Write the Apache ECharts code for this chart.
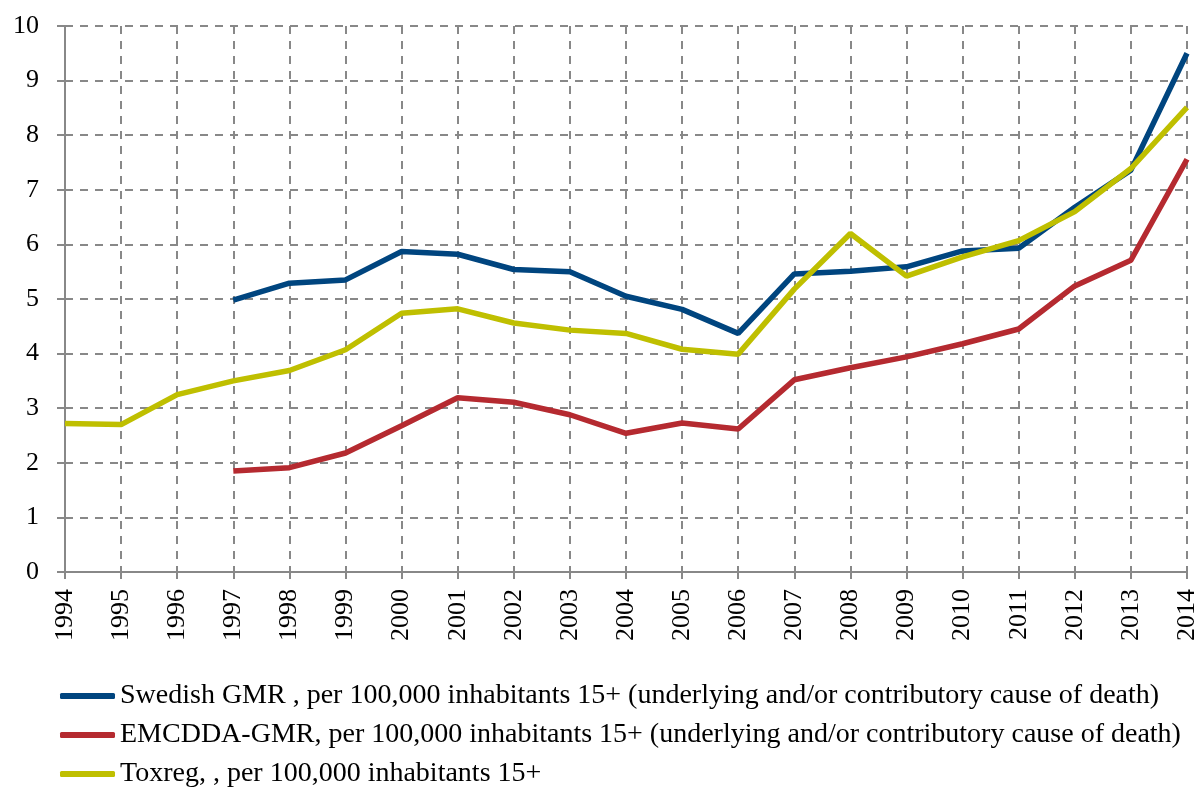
<!DOCTYPE html>
<html>
<head>
<meta charset="utf-8">
<script src="https://cdn.jsdelivr.net/npm/echarts@6/dist/echarts.min.js"></script>
<style>
  html, body { margin: 0; padding: 0; background: #fff; }
  #chart { width: 1200px; height: 789px; }
</style>
</head>
<body>
<div id="chart"></div>
<script>
  // years on the x axis
  var years = ['1994', '1995', '1996', '1997', '1998', '1999', '2000', '2001', '2002', '2003', '2004',
               '2005', '2006', '2007', '2008', '2009', '2010', '2011', '2012', '2013', '2014'];

  // values ('-' = no data)
  var swedishGmr = ['-', '-', '-', 4.98, 5.29, 5.35, 5.87, 5.82, 5.54, 5.50, 5.05,
                    4.81, 4.37, 5.46, 5.51, 5.59, 5.88, 5.93, 6.68, 7.36, 9.50];
  var emcddaGmr = ['-', '-', '-', 1.85, 1.91, 2.18, 2.68, 3.19, 3.11, 2.88, 2.54,
                   2.73, 2.62, 3.52, 3.74, 3.94, 4.18, 4.45, 5.24, 5.71, 7.56];
  var toxreg = [2.72, 2.70, 3.25, 3.50, 3.69, 4.07, 4.74, 4.82, 4.56, 4.43, 4.37,
                4.08, 3.99, 5.18, 6.20, 5.42, 5.77, 6.07, 6.60, 7.39, 8.51];

  var seriesNames = [
    'Swedish GMR , per 100,000 inhabitants 15+ (underlying and/or contributory cause of death)',
    'EMCDDA-GMR, per 100,000 inhabitants 15+ (underlying and/or contributory cause of death)',
    'Toxreg, , per 100,000 inhabitants 15+'
  ];
  var colors = ['#00457f', '#b52a30', '#bfbf00'];

  var font = 'Liberation Serif';
  var gridColor = '#888';
  var chart = echarts.init(document.getElementById('chart'));

  function makeLine(name, data, color) {
    return {
      name: name,
      type: 'line',
      data: data,
      symbol: 'none',
      connectNulls: false,
      lineStyle: { color: color, width: 5.5 },
      itemStyle: { color: color }
    };
  }

  chart.setOption({
    animation: false,
    color: colors,
    grid: { left: 65, right: 13, top: 26, bottom: 217 },
    legend: {
      orient: 'vertical',
      left: 60,
      top: 682,
      padding: 0,
      itemGap: 11,
      itemWidth: 55,
      itemHeight: 6,
      icon: 'roundRect',
      textStyle: { fontFamily: font, fontSize: 28, lineHeight: 28, color: '#000' },
      data: seriesNames
    },
    xAxis: {
      type: 'category',
      data: years,
      boundaryGap: false,
      axisLine: { lineStyle: { color: gridColor, width: 2 } },
      axisTick: { alignWithLabel: true, length: 7, lineStyle: { color: gridColor, width: 2 } },
      axisLabel: { rotate: 90, margin: 17, fontFamily: font, fontSize: 26, color: '#000' },
      splitLine: { show: true, lineStyle: { color: gridColor, width: 2, type: [8, 7] } }
    },
    yAxis: {
      type: 'value',
      min: 0,
      max: 10,
      interval: 1,
      axisLine: { show: true, lineStyle: { color: gridColor, width: 2 } },
      axisTick: { show: true, length: 8, lineStyle: { color: gridColor, width: 2 } },
      axisLabel: { margin: 26, fontFamily: font, fontSize: 26, color: '#000' },
      splitLine: { lineStyle: { color: gridColor, width: 2, type: [8, 7] } }
    },
    series: [
      makeLine(seriesNames[0], swedishGmr, colors[0]),
      makeLine(seriesNames[1], emcddaGmr, colors[1]),
      makeLine(seriesNames[2], toxreg, colors[2])
    ]
  });
</script>
</body>
</html>
